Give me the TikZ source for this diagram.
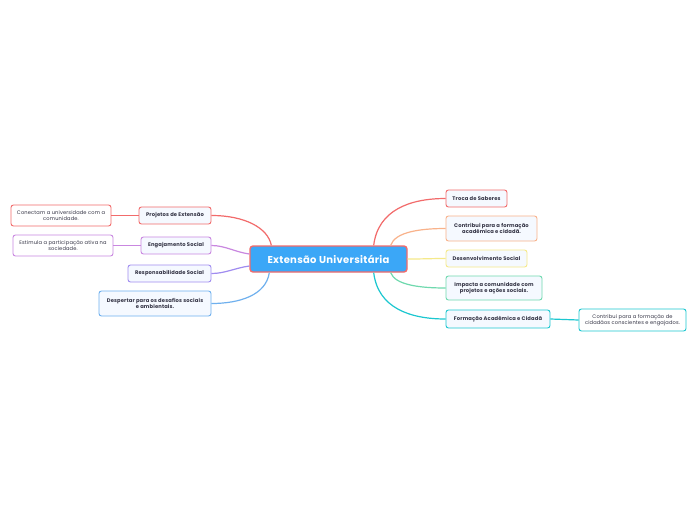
\documentclass[tikz,border=0pt]{standalone}
\usepackage{fontspec}
\setmainfont{Poppins}
\newfontfamily\spacedfont[LetterSpace=3]{Poppins}
\usetikzlibrary{calc}
\definecolor{cred}{HTML}{F26B6B}
\definecolor{corange}{HTML}{F9B28A}
\definecolor{cyellow}{HTML}{F5E98A}
\definecolor{cgreen}{HTML}{6FD9AE}
\definecolor{cteal}{HTML}{1CC7D0}
\definecolor{cpurple}{HTML}{C987E0}
\definecolor{cviolet}{HTML}{A08CF0}
\definecolor{cblue}{HTML}{6FB0EE}
\definecolor{ccenter}{HTML}{3BA7F7}
\definecolor{ctext}{HTML}{333344}
\definecolor{cfill}{HTML}{F5F9FF}
\tikzset{
  topic/.style={draw=#1, line width=0.9pt, rounded corners=2.5pt, fill=cfill, text=ctext,
    font=\spacedfont\fontsize{5.2}{6.4}\selectfont\bfseries, inner sep=1pt, align=center},
  subtopic/.style={draw=#1, line width=0.9pt, rounded corners=2.5pt, fill=white, text=ctext,
    font=\spacedfont\fontsize{5.1}{6.4}\selectfont, inner sep=1pt, align=center},
  link/.style={draw=#1, line width=1.2pt},
}
\begin{document}
\begin{tikzpicture}[x=1pt,y=-1pt]
\useasboundingbox (0,0) rectangle (697,520);
\fill[white] (0,0) rectangle (697,520);
% center
\node[draw=cred, line width=1.4pt, fill=ccenter, rounded corners=3pt, text=white,
  font=\spacedfont\fontsize{10}{12}\selectfont\bfseries, minimum width=157pt, minimum height=26pt]
  (c) at (328.5,259) {Extensão Universitária};
% left
\node[topic=cred, minimum width=72pt, minimum height=17pt] (proj) at (175,215.5) {Projetos de Extensão};
\node[subtopic=cred, minimum width=100pt, minimum height=21pt] (con) at (61,215.5) {Conectam a universidade com a\\comunidade.};
\node[topic=cpurple, minimum width=70pt, minimum height=17pt] (eng) at (176,245.5) {Engajamento Social};
\node[subtopic=cpurple, minimum width=100pt, minimum height=21pt] (est) at (63,245.5) {Estimula a participação ativa na\\sociedade.};
\node[topic=cviolet, minimum width=83pt, minimum height=17pt] (resp) at (169.5,273.5) {Responsabilidade Social};
\node[topic=cblue, minimum width=112pt, minimum height=25pt] (desp) at (155,303.5) {Despertar para os desafios sociais\\e ambientais.};
% right
\node[topic=cred, minimum width=61pt, minimum height=17pt] (troca) at (476.5,198.5) {Troca de Saberes};
\node[topic=corange, minimum width=91pt, minimum height=25pt] (contr) at (491.5,228.5) {Contribui para a formação\\acadêmica e cidadã.};
\node[topic=cyellow, minimum width=81pt, minimum height=17pt] (desen) at (486.5,258.5) {Desenvolvimento Social};
\node[topic=cgreen, minimum width=96pt, minimum height=24pt] (imp) at (494,288) {Impacta a comunidade com\\projetos e ações sociais.};
\node[topic=cteal, minimum width=104pt, minimum height=18pt] (form) at (498,319) {Formação Acadêmica e Cidadã};
\node[subtopic=cteal, minimum width=107pt, minimum height=22pt] (contr2) at (632.5,320) {Contribui para a formação de\\cidadãos conscientes e engajados.};
% connectors left
\draw[link=cred] ([xshift=22pt]c.north west) .. controls (268,228) and (245,215.5) .. (proj.east);
\draw[link=cpurple] ([yshift=5pt]c.west) .. controls (235,252) and (225,245.5) .. (eng.east);
\draw[link=cviolet] ([yshift=-7pt]c.west) .. controls (235,268) and (225,273.5) .. (resp.east);
\draw[link=cblue] ([xshift=20pt]c.south west) .. controls (266,295) and (240,303.5) .. (desp.east);
\draw[link=cred] (proj.west) -- (con.east);
\draw[link=cpurple] (eng.west) -- (est.east);
% right
\draw[link=cred] ([xshift=-34pt]c.north east) .. controls (378,210) and (410,198.5) .. (troca.west);
\draw[link=corange] ([xshift=-17pt]c.north east) .. controls (395,232) and (420,228.5) .. (contr.west);
\draw[link=cyellow] (c.east) .. controls (425,259) and (430,258.5) .. (desen.west);
\draw[link=cgreen] ([xshift=-17pt]c.south east) .. controls (395,285) and (420,288) .. (imp.west);
\draw[link=cteal] ([xshift=-34pt]c.south east) .. controls (378,308) and (410,319) .. (form.west);
\draw[link=cteal] (form.east) -- (contr2.west);
\end{tikzpicture}
\end{document}
